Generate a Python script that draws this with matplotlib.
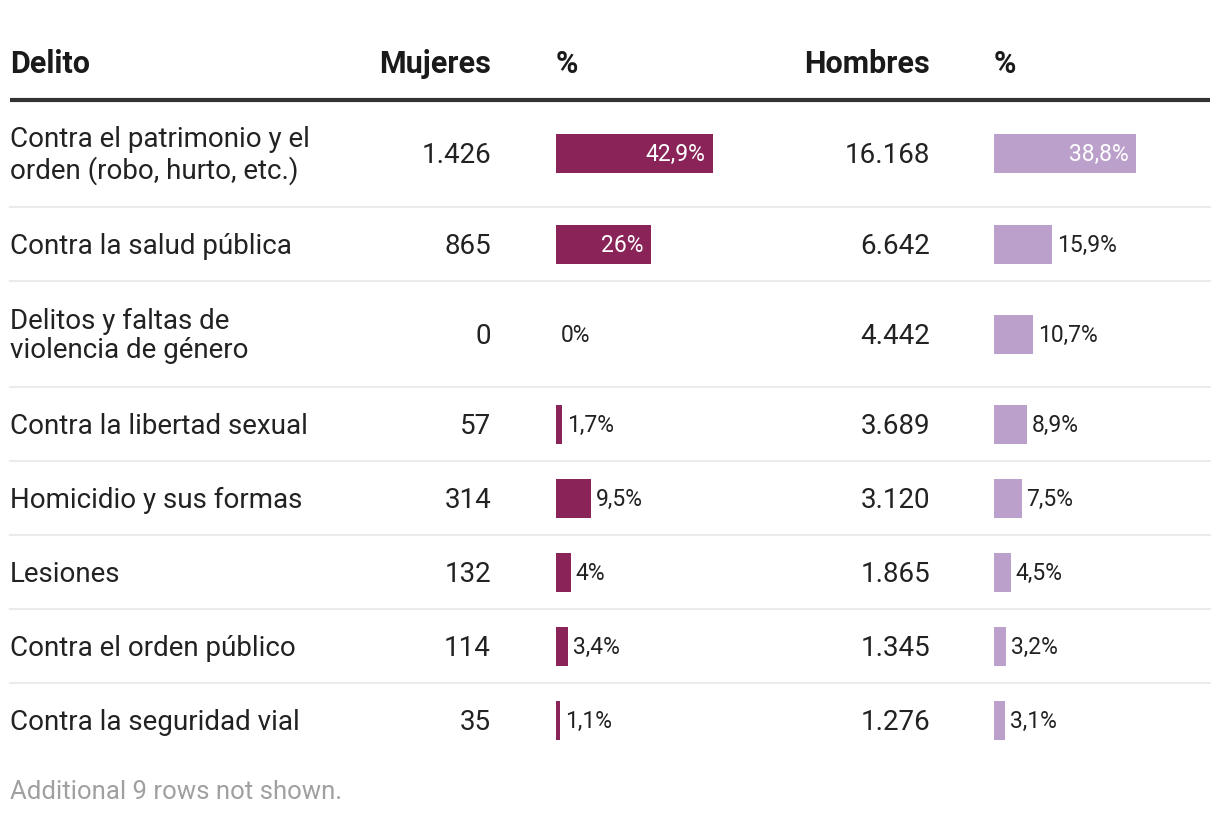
import matplotlib.pyplot as plt

# datos de la tabla
delitos = ["Contra el patrimonio y el\norden (robo, hurto, etc.)",
           "Contra la salud pública",
           "Delitos y faltas de\nviolencia de género",
           "Contra la libertad sexual",
           "Homicidio y sus formas",
           "Lesiones",
           "Contra el orden público",
           "Contra la seguridad vial"]
mujeres = [1426, 865, 0, 57, 314, 132, 114, 35]
mujeres_pct = [42.9, 26, 0, 1.7, 9.5, 4, 3.4, 1.1]
hombres = [16168, 6642, 4442, 3689, 3120, 1865, 1345, 1276]
hombres_pct = [38.8, 15.9, 10.7, 8.9, 7.5, 4.5, 3.2, 3.1]
nota = "Additional 9 rows not shown."

COL_M = "#8a2458"
COL_H = "#bba0cb"
TXT = "#222222"
plt.rcParams['font.family'] = ['Roboto', 'DejaVu Sans']


def fmt_num(v):
    return f"{v:,}".replace(",", ".")


def fmt_pct(v):
    s = f"{v:g}".replace(".", ",")
    return s + "%"


fig = plt.figure(figsize=(12.2, 8.16), dpi=100)
ax = fig.add_axes([0, 0, 1, 1])
ax.set_xlim(0, 1220)
ax.set_ylim(816, 0)
ax.axis("off")

# layout (pixeles)
row_h = [107, 74, 106, 74, 74, 74, 74, 74]
top = 100
ys = []
y = top
for h in row_h:
    ys.append(y + h / 2)
    y += h
px_per_pct = 3.67
x_m_bar = 556
x_h_bar = 994
dy = 2  # ajuste vertical del texto

# cabecera
hdr = dict(fontsize=22, fontweight="bold", color="#1a1a1a", va="center")
ax.text(10, 64, "Delito", ha="left", **hdr)
ax.text(491, 64, "Mujeres", ha="right", **hdr)
ax.text(556, 64, "%", ha="left", **hdr)
ax.text(930, 64, "Hombres", ha="right", **hdr)
ax.text(994, 64, "%", ha="left", **hdr)
ax.plot([10, 1210], [top, top], color="#333333", lw=3, solid_capstyle="butt")

# separadores
y = top
for h in row_h[:-1]:
    y += h
    ax.plot([10, 1210], [y, y], color="#ebebeb", lw=1.5)

# barras
wm = [p * px_per_pct for p in mujeres_pct]
wh = [p * px_per_pct for p in hombres_pct]
ax.barh(ys, wm, left=x_m_bar, height=39, color=COL_M)
ax.barh(ys, wh, left=x_h_bar, height=39, color=COL_H)

for i, yc in enumerate(ys):
    ax.text(10, yc + dy, delitos[i], ha="left", va="center", fontsize=20,
            color=TXT, linespacing=1.1)
    ax.text(491, yc + dy, fmt_num(mujeres[i]), ha="right", va="center",
            fontsize=20, color=TXT)
    ax.text(930, yc + dy, fmt_num(hombres[i]), ha="right", va="center",
            fontsize=20, color=TXT)
    for x0, w, p in ((x_m_bar, wm[i], mujeres_pct[i]),
                     (x_h_bar, wh[i], hombres_pct[i])):
        if p >= 20:
            ax.text(x0 + w - 8, yc + 1, fmt_pct(p), ha="right", va="center",
                    fontsize=16.5, color="white")
        else:
            ax.text(x0 + w + 5, yc + 1, fmt_pct(p), ha="left", va="center",
                    fontsize=16.5, color=TXT)

ax.text(10, 792, nota, ha="left", va="center", fontsize=18.5, color="#a0a0a0")

fig.savefig("out.png", dpi=100)
